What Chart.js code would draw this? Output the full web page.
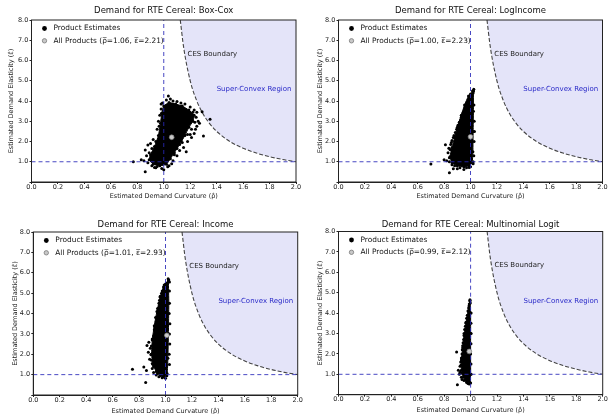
<!DOCTYPE html>
<html>
<head>
<meta charset="utf-8">
<script src="https://cdn.jsdelivr.net/npm/chart.js@4.4.1/dist/chart.umd.min.js"></script>
<style>
  html, body { margin: 0; padding: 0; background: #fff; }
  #wrap { position: relative; width: 611px; height: 414px; overflow: hidden; }
  #wrap canvas { position: absolute; }
</style>
</head>
<body>
<div id="wrap">
  <canvas id="c0" width="305" height="207" style="left:0;top:0"></canvas>
  <canvas id="c1" width="306" height="207" style="left:305px;top:0"></canvas>
  <canvas id="c2" width="305" height="207" style="left:0;top:207px"></canvas>
  <canvas id="c3" width="306" height="207" style="left:305px;top:207px"></canvas>
</div>
<script>
// --- Data ---
const panelTitles = [
  'Demand for RTE Cereal: Box-Cox',
  'Demand for RTE Cereal: LogIncome',
  'Demand for RTE Cereal: Income',
  'Demand for RTE Cereal: Multinomial Logit'
];
const meanRho = [1.06, 1.00, 1.01, 0.99];
const meanEps = [2.21, 2.23, 2.93, 2.12];

const xTickValues = [0, 0.2, 0.4, 0.6, 0.8, 1.0, 1.2, 1.4, 1.6, 1.8, 2.0];
const xTickLabels = ['0.0', '0.2', '0.4', '0.6', '0.8', '1.0', '1.2', '1.4', '1.6', '1.8', '2.0'];
const yTickValues = [0, 1, 2, 3, 4, 5, 6, 7, 8];
const yTickLabels = ['', '1.0', '2.0', '3.0', '4.0', '5.0', '6.0', '7.0', '8.0'];

// CES boundary curve
const cesRho = [1.125, 1.15, 1.2, 1.25, 1.3, 1.35, 1.4, 1.5, 1.6, 1.7, 1.8, 1.9, 2.0];
const cesEps = [8.0, 6.67, 5.0, 4.0, 3.33, 2.86, 2.5, 2.0, 1.67, 1.43, 1.25, 1.11, 1.0];

// reference lines rho = 1 and eps = 1
const vLine = [[1, 0], [1, 8]];
const hLine = [[0, 1], [2, 1]];

// dense core outline of each cloud  [rho, eps]
const boxcoxCore = [[0.985,3.4],[1.0,3.75],[1.04,3.92],[1.09,3.85],[1.14,3.75],[1.19,3.55],[1.23,3.3],[1.22,3.0],
  [1.19,2.7],[1.16,2.3],[1.12,1.85],[1.08,1.45],[1.05,1.15],[1.02,0.88],[0.97,0.8],[0.92,0.88],[0.89,1.1],
  [0.9,1.35],[0.93,1.75],[0.96,2.3],[0.975,2.9],[0.985,3.4]];
const logincCore = [[1.022,4.5],[1.022,3.5],[1.02,2.5],[1.018,1.5],[1.012,0.95],[0.99,0.8],[0.95,0.75],[0.9,0.8],
  [0.86,0.95],[0.845,1.25],[0.86,1.7],[0.88,2.2],[0.905,2.8],[0.93,3.3],[0.955,3.8],[0.985,4.25],[1.022,4.5]];
const incomeCore = [[1.022,5.6],[1.025,4.5],[1.022,3.0],[1.018,1.8],[1.012,1.05],[0.99,0.92],[0.96,0.95],[0.93,1.15],
  [0.905,1.5],[0.895,2.0],[0.9,2.7],[0.915,3.4],[0.935,4.1],[0.96,4.8],[0.99,5.4],[1.022,5.6]];
const mnlCore = [[0.995,4.6],[1.0,4.0],[1.0,3.0],[1.0,2.0],[1.0,1.0],[0.995,0.6],[0.97,0.65],[0.945,0.85],
  [0.93,1.2],[0.93,1.7],[0.94,2.3],[0.95,2.9],[0.965,3.5],[0.98,4.1],[0.995,4.6]];

// scattered product estimates around the cores
const boxcoxPts = [[1.035,4.25],[1.02,4.05],[1.07,4.0],[1.1,3.98],[1.16,3.85],[1.2,3.7],[1.23,3.55],[1.25,3.45],
  [1.29,3.47],[1.35,3.1],[1.27,2.9],[1.3,2.27],[1.26,3.0],[1.24,2.6],[1.23,2.4],[1.21,2.2],[1.18,2.0],[1.2,2.35],
  [1.15,1.7],[1.12,1.55],[1.1,1.3],[1.07,1.05],[1.06,0.9],[1.03,0.75],[1.0,0.6],[0.985,0.67],[0.95,0.76],
  [0.93,0.72],[0.86,0.51],[0.77,1.0],[0.83,1.1],[0.85,1.05],[0.86,1.58],[0.88,1.83],[0.87,1.3],[0.9,1.9],
  [0.92,2.1],[0.95,2.6],[0.96,3.0],[0.97,3.3],[0.98,3.6],[0.88,0.95],[0.91,0.8],[1.17,1.5],[1.25,2.75],[1.13,2.05],
  [0.99,3.9],[1.05,4.1],[1.13,3.9],[1.22,3.45],[1.245,3.2],[1.235,2.95],[1.21,2.6],[1.18,2.35],[1.14,1.95],
  [1.1,1.65],[1.08,1.35],[0.94,0.7],[0.89,1.45],[0.91,1.65],[0.94,2.0],[0.965,2.75],[1.04,0.8],[0.98,3.85]];
const logincPts = [[1.025,4.58],[1.02,4.4],[1.01,4.3],[0.99,4.1],[0.975,3.95],[0.96,3.7],[0.945,3.45],[0.93,3.2],
  [0.915,2.95],[0.9,2.7],[0.885,2.45],[0.87,2.2],[0.86,2.05],[0.85,1.85],[0.81,1.84],[0.836,1.67],[0.83,1.45],
  [0.8,1.1],[0.82,1.05],[0.84,1.0],[0.7,0.89],[0.84,0.46],[0.87,0.66],[0.9,0.65],[0.95,0.62],[0.97,0.7],
  [1.0,0.75],[1.02,0.9],[1.025,1.3],[1.027,2.0],[1.028,3.0],[1.026,3.8],[0.86,1.55],[0.88,0.8],[0.92,0.7],
  [1.015,4.5],[1.0,4.35],[0.97,3.85],[0.94,3.35],[0.925,3.05],[0.895,2.6],[0.875,2.3],[0.855,1.95],[0.845,1.6],
  [0.84,1.2],[0.86,0.85],[0.99,0.72],[1.02,1.0],[1.03,2.5]];
const incomePts = [[1.02,5.71],[1.03,5.55],[1.01,5.5],[0.985,5.3],[0.975,5.1],[0.96,4.85],[0.95,4.5],[0.944,4.0],
  [0.937,3.05],[0.93,3.6],[0.92,3.3],[0.91,2.9],[0.874,2.59],[0.86,2.43],[0.885,2.3],[0.87,2.1],[0.89,1.98],
  [0.88,1.75],[0.836,1.37],[0.856,1.2],[0.75,1.26],[0.85,0.61],[0.9,1.3],[0.91,1.1],[0.95,0.9],[0.975,0.85],
  [1.0,0.82],[1.01,0.95],[1.03,1.5],[1.032,2.5],[1.033,3.5],[1.03,4.5],[1.03,5.1],[0.9,1.55],[0.93,0.98],
  [1.025,5.65],[1.0,5.45],[0.97,5.0],[0.955,4.65],[0.94,4.25],[0.925,3.8],[0.915,3.2],[0.9,2.75],[0.893,2.4],
  [0.892,2.0],[0.895,1.7],[0.91,1.4],[0.94,1.05],[0.98,0.88],[1.028,2.0],[1.03,3.0],[1.028,4.0]];
const mnlPts = [[0.995,4.66],[0.99,4.45],[0.985,4.25],[0.975,3.9],[0.965,3.55],[0.955,3.2],[0.947,2.7],[0.94,2.4],
  [0.935,2.0],[0.894,2.09],[0.925,1.6],[0.92,1.39],[0.907,1.2],[0.915,1.0],[0.9,0.49],[0.93,0.85],[0.95,0.7],
  [0.97,0.6],[0.99,0.52],[1.0,0.57],[1.003,1.5],[1.003,2.5],[1.003,3.5],[0.92,1.1],[0.935,0.75],
  [0.998,4.5],[0.988,4.35],[0.97,3.75],[0.96,3.35],[0.95,3.0],[0.943,2.55],[0.937,2.2],[0.93,1.8],[0.928,1.45],
  [0.935,1.05],[0.96,0.75],[0.98,0.55],[1.004,1.0],[1.004,3.0],[1.004,4.0]];

const coreSets = [boxcoxCore, logincCore, incomeCore, mnlCore];
const pointSets = [boxcoxPts, logincPts, incomePts, mnlPts];

// text anchors (data coords)
const cesLabelAt = [1.18, 6.33];
const regionLabelAt = [1.40, 4.6];

// --- Layout of each panel inside its canvas ---
const frames = [
  { w: 305, left: 31.5, right: 296,   top: 20,   bottom: 182,   titleY: 10.7, xTitleY: 196.7, yTitleX: 11.7 },
  { w: 306, left: 33.5, right: 297.5, top: 20,   bottom: 182,   titleY: 10.7, xTitleY: 196.7, yTitleX: 15 },
  { w: 305, left: 33.3, right: 297.7, top: 25,   bottom: 188,   titleY: 17.3, xTitleY: 204,   yTitleX: 15 },
  { w: 306, left: 33.5, right: 297.7, top: 24.5, bottom: 187.7, titleY: 17.3, xTitleY: 203.3, yTitleX: 15 }
];
const H = 207;
const FONT = "'DejaVu Sans', Arial, sans-serif";
const BLUE = 'rgba(40,40,185,0.85)';
const LAV = 'rgba(185,185,240,0.38)';

const toXY = arr => arr.map(p => ({ x: p[0], y: p[1] }));

const decor = {
  id: 'decor',
  afterDatasetsDraw(chart) {
    const ctx = chart.ctx;
    const a = chart.chartArea;
    const xs = chart.scales.x, ys = chart.scales.y;
    const i = chart.options.plugins.decor.idx;
    ctx.save();
    // frame
    ctx.strokeStyle = '#222';
    ctx.lineWidth = 1;
    ctx.strokeRect(a.left, a.top, a.right - a.left, a.bottom - a.top);
    // annotations
    ctx.font = '7px ' + FONT;
    ctx.textBaseline = 'middle';
    ctx.textAlign = 'left';
    ctx.fillStyle = '#222';
    ctx.fillText('CES Boundary', xs.getPixelForValue(cesLabelAt[0]), ys.getPixelForValue(cesLabelAt[1]));
    ctx.fillStyle = '#2a2ac8';
    ctx.fillText('Super-Convex Region', xs.getPixelForValue(regionLabelAt[0]), ys.getPixelForValue(regionLabelAt[1]));
    // legend
    const lx = a.left + 13, tx = a.left + 22;
    const r1 = a.top + 8.5, r2 = a.top + 20.8;
    ctx.fillStyle = '#000';
    ctx.beginPath(); ctx.arc(lx, r1, 2.4, 0, Math.PI * 2); ctx.fill();
    ctx.fillStyle = '#c8c8c8';
    ctx.strokeStyle = '#7a7a7a';
    ctx.lineWidth = 0.8;
    ctx.beginPath(); ctx.arc(lx, r2, 2.2, 0, Math.PI * 2); ctx.fill(); ctx.stroke();
    ctx.font = '7.4px ' + FONT;
    ctx.fillStyle = '#111';
    ctx.fillText('Product Estimates', tx, r1);
    ctx.fillText('All Products (\u03C1\u0305=' + meanRho[i].toFixed(2) + ', \u03B5\u0305=' + meanEps[i].toFixed(2) + ')', tx, r2);
    ctx.restore();
  }
};

function buildChart(i) {
  const f = frames[i];
  const titleTop = f.titleY - 5.1;
  const titleBottom = f.top - titleTop - 10.2;
  return new Chart(document.getElementById('c' + i), {
    type: 'scatter',
    data: {
      datasets: [
        { label: 'All Products', data: toXY([[meanRho[i], meanEps[i]]]), pointRadius: 2.4,
          backgroundColor: '#c8c8c8', borderColor: '#7a7a7a', pointBorderWidth: 0.7, order: 0 },
        { label: 'rho=1', data: toXY(vLine), showLine: true, borderColor: BLUE, borderWidth: 1,
          borderDash: [4, 3], pointRadius: 0, order: 1 },
        { label: 'eps=1', data: toXY(hLine), showLine: true, borderColor: BLUE, borderWidth: 1,
          borderDash: [4, 3], pointRadius: 0, order: 2 },
        { label: 'Product Estimates', data: toXY(pointSets[i]), pointRadius: 1.5,
          backgroundColor: '#000', borderColor: '#000', pointBorderWidth: 0, order: 3 },
        { label: 'core', data: toXY(coreSets[i]), showLine: true, fill: 'shape', tension: 0.15,
          backgroundColor: '#000', borderColor: '#000', borderWidth: 1,
          pointRadius: 1.5, pointBackgroundColor: '#000', pointBorderWidth: 0, order: 4 },
        { label: 'CES Boundary', data: toXY(cesRho.map((r, k) => [r, cesEps[k]])), showLine: true,
          fill: 'end', backgroundColor: LAV, borderColor: '#444', borderWidth: 1.1, borderDash: [4, 2],
          cubicInterpolationMode: 'monotone', pointRadius: 0, order: 5 }
      ]
    },
    options: {
      responsive: false,
      animation: false,
      events: [],
      layout: { padding: { left: 0, top: 0, right: f.w - f.right, bottom: 0 } },
      plugins: {
        legend: { display: false },
        tooltip: { enabled: false },
        title: {
          display: true, text: panelTitles[i], fullSize: false, color: '#111',
          font: { family: FONT, size: 8.5, weight: 'normal', lineHeight: 1.2 },
          padding: { top: titleTop, bottom: titleBottom }
        },
        decor: { idx: i }
      },
      scales: {
        x: {
          type: 'linear', min: 0, max: 2,
          afterBuildTicks: s => { s.ticks = xTickValues.map(v => ({ value: v })); },
          afterFit: s => { s.height = H - f.bottom; s.paddingLeft = 0; s.paddingRight = 0; },
          grid: { display: true, drawOnChartArea: false, drawTicks: true, tickLength: 2, color: '#222' },
          border: { display: true, color: '#222' },
          ticks: {
            autoSkip: false, maxRotation: 0, padding: -1, color: '#222',
            font: { family: FONT, size: 6.5 },
            callback: (v) => xTickLabels[xTickValues.indexOf(v)] ?? ''
          },
          title: {
            display: true, text: 'Estimated Demand Curvature (\u03C1\u0302)', color: '#222',
            font: { family: FONT, size: 6.5, lineHeight: 1.2 },
            padding: { top: 0, bottom: H - f.xTitleY - 3.9 }
          }
        },
        y: {
          type: 'linear', min: 0, max: 8,
          afterBuildTicks: s => { s.ticks = yTickValues.map(v => ({ value: v })); },
          afterFit: s => { s.width = f.left; s.paddingTop = 0; s.paddingBottom = 0; },
          grid: { display: true, drawOnChartArea: false, drawTicks: true, tickLength: 2, color: '#222' },
          border: { display: true, color: '#222' },
          ticks: {
            autoSkip: false, padding: 1.2, color: '#222',
            font: { family: FONT, size: 6.5 },
            callback: (v) => yTickLabels[yTickValues.indexOf(v)] ?? ''
          },
          title: {
            display: true, text: 'Estimated Demand Elasticity (\u03B5\u0302)', color: '#222',
            font: { family: FONT, size: 6.5, lineHeight: 1.2 },
            padding: { top: f.yTitleX - 3.9, bottom: 0 }
          }
        }
      }
    },
    plugins: [decor]
  });
}

[0, 1, 2, 3].forEach(buildChart);
</script>
</body>
</html>
